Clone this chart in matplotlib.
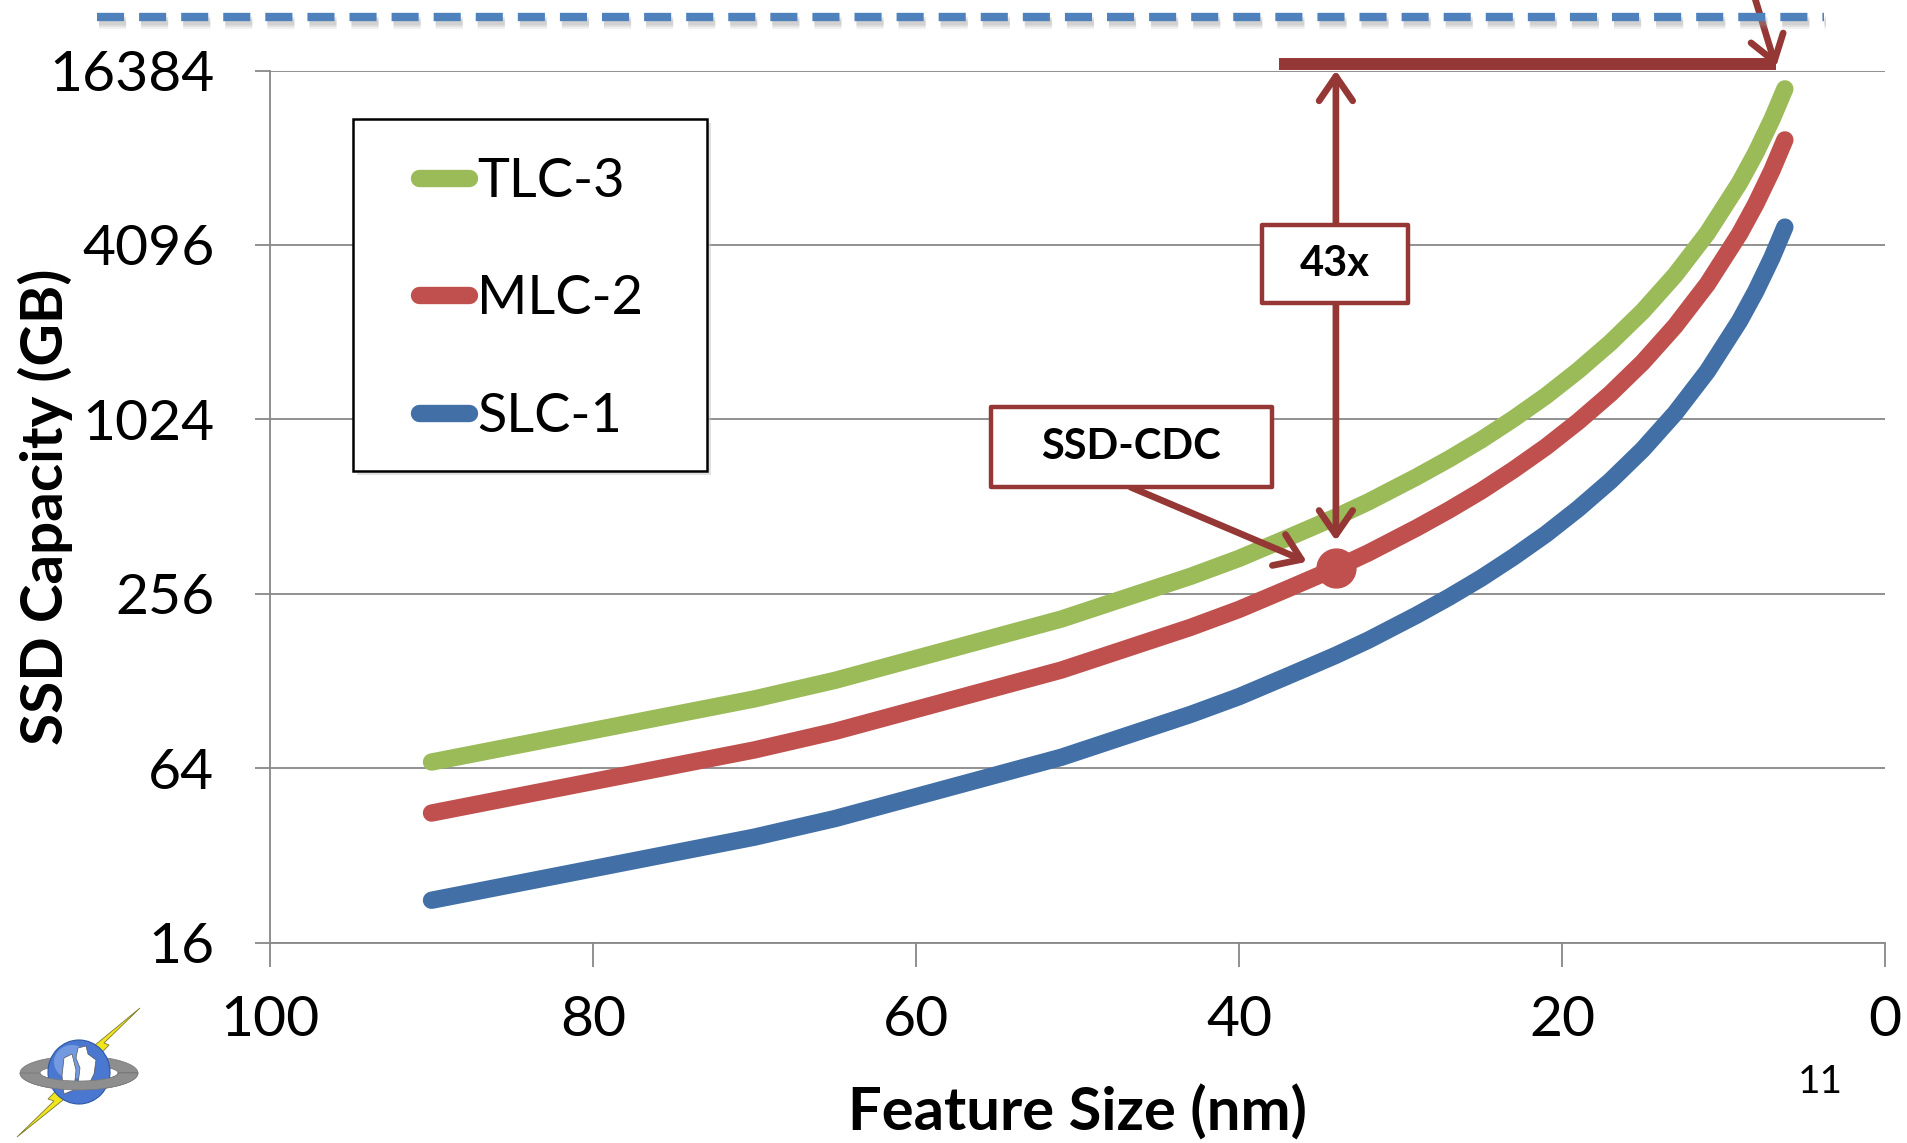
import matplotlib as mpl
mpl.use('Agg')  # headless mode
import matplotlib.pyplot as plt
from matplotlib.lines import Line2D
from matplotlib.patches import Rectangle, Ellipse, Polygon
import numpy as np

plt.rcParams['font.family'] = ['Lato', 'DejaVu Sans']

W, H = 1907, 1143  # output size in pixels

# ---- data ----
feature_nm = [90, 70, 65, 51, 43, 40, 37, 34, 32, 29, 27, 25, 23, 21, 19, 17, 15, 13, 11, 9, 8, 7, 6.2]
slc_gb = [22.4, 37.0, 42.9, 69.8, 98.1, 113, 133, 157, 177, 216, 249, 290, 343, 411, 503,
          628, 806, 1074, 1500, 2240, 2835, 3703, 4720]
mlc_gb = [44.8, 74.0, 85.8, 139.6, 196, 226, 266, 314, 354, 432, 498, 580, 686, 822, 1006,
          1256, 1612, 2148, 3000, 4480, 5670, 7406, 9440]
tlc_gb = [67.2, 111, 128.7, 209.4, 294, 339, 399, 471, 531, 648, 747, 870, 1029, 1233, 1509,
          1884, 2418, 3222, 4500, 6720, 8505, 11109, 14160]
series_labels = ['TLC-3', 'MLC-2', 'SLC-1']
y_ticks = [16, 64, 256, 1024, 4096, 16384]
x_ticks = [100, 80, 60, 40, 20, 0]
cdc_nm, cdc_gb = 34, 314      # SSD-CDC point on the MLC curve
gain_label = '43x'

GREEN, RED, BLUE = '#9BBB59', '#C0504D', '#416FA6'
DARK = '#953735'
GRID = '#888888'


def fx(px):
    return px / W


def fy(py):
    return 1 - py / H


fig = plt.figure(figsize=(W / 100, H / 100), dpi=100)
ax = fig.add_axes([fx(270), fy(942.6), (1885 - 270) / W, (942.6 - 70.5) / H])

ax.set_yscale('log', base=2)
ax.set_xlim(100, 0)
ax.set_ylim(16, 16384)

# curves
line_kw = dict(lw=12.5, solid_capstyle='round', solid_joinstyle='round')
h_slc, = ax.plot(feature_nm, slc_gb, color=BLUE, zorder=3, **line_kw)
h_mlc, = ax.plot(feature_nm, mlc_gb, color=RED, zorder=3, **line_kw)
h_tlc, = ax.plot(feature_nm, tlc_gb, color=GREEN, zorder=3, **line_kw)
ax.plot(cdc_nm, cdc_gb, 'o', ms=28, color=RED, mec=RED, zorder=4)

# axes styling
ax.set_yticks(y_ticks)
ax.set_yticklabels([str(v) for v in y_ticks])
ax.yaxis.set_minor_locator(mpl.ticker.NullLocator())
ax.set_xticks(x_ticks)
ax.set_xticklabels([str(v) for v in x_ticks])
ax.grid(axis='y', color=GRID, lw=1.3)
ax.set_axisbelow(True)
for side in ['top', 'right']:
    ax.spines[side].set_visible(False)
for side in ['left', 'bottom']:
    ax.spines[side].set_color(GRID)
    ax.spines[side].set_linewidth(1.3)
ax.tick_params(axis='x', length=17, width=1.3, color=GRID, pad=21, labelsize=41)
ax.tick_params(axis='y', length=11, width=1.3, color=GRID, pad=29, labelsize=41)

ax.set_xlabel('Feature Size (nm)', fontsize=43, fontweight='bold', va='center')
ax.xaxis.set_label_coords(0.5003, -0.195)
ax.set_ylabel('SSD Capacity (GB)', fontsize=42, fontweight='bold', va='center')
ax.yaxis.set_label_coords(-0.1393, 0.4995)

# legend with a plain framed box behind it
ax.add_patch(Rectangle((fx(357), fy(475)), 354 / W, 352 / H, transform=fig.transFigure,
                       facecolor='#c4c4c4', edgecolor='none', alpha=0.5, zorder=4, clip_on=False))
ax.add_patch(Rectangle((fx(353), fy(471)), 354 / W, 352 / H, transform=fig.transFigure,
                       facecolor='white', edgecolor='black', lw=1.8, zorder=4, clip_on=False))
ax.legend([h_tlc, h_mlc, h_slc], series_labels, loc='upper left',
          bbox_to_anchor=(fx(419), fy(157)), bbox_transform=fig.transFigure,
          frameon=False, fontsize=39, handlelength=0.93, handletextpad=0.15,
          labelspacing=1.26, borderpad=0, borderaxespad=0)

# ---- annotations ----
arrow_kw = dict(arrowstyle='->,head_length=0.8,head_width=0.55', mutation_scale=22,
                color=DARK, lw=4.8, shrinkA=0, shrinkB=0)

# bracket bar at the top and the arrow coming from above
ax.plot([37.5, 6.75], [17250, 17250], color=DARK, lw=8.6, solid_capstyle='butt',
        clip_on=False, zorder=5)
ax.annotate('', xy=(6.75, 16857), xycoords='data', xytext=(fx(1752), 1.01),
            textcoords='figure fraction', arrowprops=arrow_kw, annotation_clip=False, zorder=5)

# 43x double arrow
ax.annotate('', xy=(cdc_nm, 16384), xytext=(cdc_nm, 3530), arrowprops=arrow_kw,
            annotation_clip=False, zorder=5)
ax.annotate('', xy=(cdc_nm, 390), xytext=(cdc_nm, 3530), arrowprops=arrow_kw, zorder=5)
ax.add_patch(Rectangle((38.57, 2581), 29.54 - 38.57, 4786 - 2581, facecolor='white',
                       edgecolor=DARK, lw=3.2, joinstyle='round', zorder=6))
ax.text(34.05, 3530, gain_label, ha='center', va='center', fontsize=30,
        fontweight='bold', zorder=7)

# SSD-CDC callout
ax.annotate('', xy=(35.8, 330), xytext=(46.7, 597), arrowprops=arrow_kw, zorder=5)
ax.add_patch(Rectangle((55.35, 597), 37.96 - 55.35, 1128 - 597, facecolor='white',
                       edgecolor=DARK, lw=3.2, joinstyle='round', zorder=6))
ax.text(46.66, 820, 'SSD-CDC', ha='center', va='center', fontsize=30,
        fontweight='bold', zorder=7)

# dashed line along the top edge, with a soft shadow
for off, a in [(8, 0.12), (6, 0.18), (4, 0.22)]:
    fig.add_artist(Line2D([fx(99), fx(1826)], [fy(17 + off), fy(17 + off)],
                          transform=fig.transFigure, color='#999999', alpha=a, lw=6,
                          linestyle=(0, (3.25, 1.8))))
fig.add_artist(Line2D([fx(97), fx(1824)], [fy(17), fy(17)], transform=fig.transFigure,
                      color='#4F81BD', lw=6, linestyle=(0, (3.25, 1.8))))

# slide number
fig.text(fx(1820), fy(1082), '11', ha='center', va='center', fontsize=28)

# ---- small logo in the lower left corner ----
lg = fig.add_axes([fx(5), 0, 150 / W, 150 / H])
lg.set_xlim(5, 155)
lg.set_ylim(1143, 993)
lg.axis('off')
bolt = [(140, 1008), (104, 1043), (109, 1045), (62, 1094), (68, 1096), (17, 1137),
        (54, 1101), (48, 1099), (94, 1052), (89, 1050)]
lg.add_patch(Polygon(bolt, closed=True, facecolor='#F2E51C', edgecolor='#7a7a30', lw=0.6))
t = np.linspace(0, 2 * np.pi, 120)
outer = np.c_[79 + 59 * np.cos(t), 1073 + 17 * np.sin(t)]
inner = np.c_[79 + 39 * np.cos(t[::-1]), 1073 + 8 * np.sin(t[::-1])]
lg.add_patch(Polygon(np.r_[outer, inner], closed=True, facecolor='#8E8E8E', edgecolor='#777777', lw=0.5))
lg.add_patch(Ellipse((79, 1072), 62, 64, facecolor='#4A78D0', edgecolor='#2E56A6', lw=0.8))
lg.add_patch(Ellipse((72, 1062), 36, 34, facecolor='#8FB0EE', edgecolor='none', alpha=0.6))
lg.add_patch(Polygon([(64, 1058), (72, 1054), (76, 1070), (74, 1090), (64, 1094), (62, 1076)],
                     closed=True, facecolor='white', edgecolor='#555555', lw=0.5))
lg.add_patch(Polygon([(78, 1048), (86, 1046), (88, 1054), (96, 1060), (94, 1074), (86, 1090),
                      (78, 1084), (80, 1068), (76, 1058)],
                     closed=True, facecolor='white', edgecolor='#555555', lw=0.5))
# front half of the ring, drawn over the sphere
tf = np.linspace(0, np.pi, 60)
front_out = np.c_[79 + 59 * np.cos(tf), 1073 + 17 * np.sin(tf)]
front_in = np.c_[79 + 39 * np.cos(tf[::-1]), 1073 + 8 * np.sin(tf[::-1])]
lg.add_patch(Polygon(np.r_[front_out, front_in], closed=True, facecolor='#8E8E8E',
                     edgecolor='#777777', lw=0.5))

fig.savefig('out.png', dpi=100, facecolor='white')
